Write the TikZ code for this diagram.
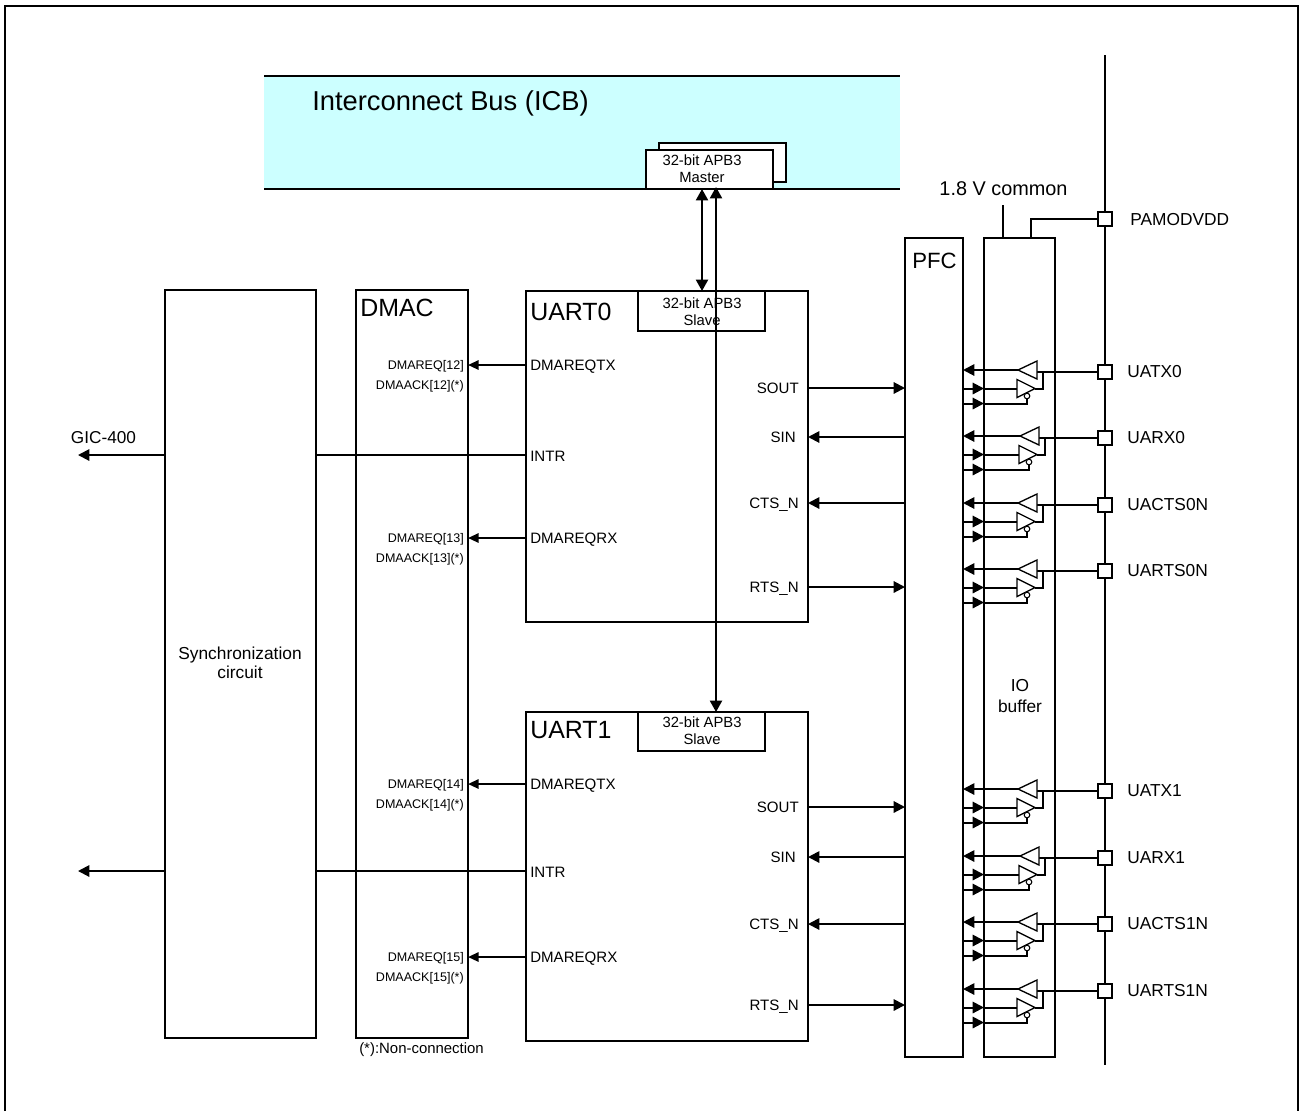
\documentclass[tikz,border=0pt]{standalone}
\usepackage{fontspec}
\setmainfont{Liberation Sans}
\usetikzlibrary{arrows.meta}
\definecolor{icbcyan}{HTML}{CCFFFF}
\tikzset{
  x=0.75pt,y=-0.75pt,
  wire/.style={draw=black,line width=1.5pt},
  tip/.style={-{Triangle[length=8.5pt,width=8.5pt]}},
  tipb/.style={{Triangle[length=8.5pt,width=9pt]}-{Triangle[length=8.5pt,width=9pt]}},
  smalltip/.style={-{Triangle[length=8pt,width=7pt]}},
  boxn/.style={draw=black,line width=1.5pt,fill=white,inner sep=0pt,outer sep=0pt,anchor=north west},
  lbl/.style={inner sep=0pt,font=\fontsize{11.3pt}{13pt}\selectfont,text height=8.1pt,text depth=0pt},
  padlbl/.style={inner sep=0pt,font=\fontsize{13pt}{15pt}\selectfont,text height=9.4pt,text depth=0pt,anchor=west},
  small/.style={inner sep=0pt,font=\fontsize{9.4pt}{11pt}\selectfont,text height=6.8pt,text depth=0pt,anchor=east},
  ctr/.style={inner sep=0pt,align=center},
  apb/.style={ctr,font=\fontsize{11.1pt}{12.75pt}\selectfont},
  big/.style={inner sep=0pt,font=\fontsize{18.7pt}{22pt}\selectfont,anchor=west,text height=13.5pt,text depth=0pt},
  pad/.style={draw=black,line width=1.5pt,fill=white,minimum size=10.5pt,inner sep=0pt,outer sep=0pt},
  buf/.style={draw=black,line width=1pt,fill=white},
}
\newcommand{\rectbox}[6]{\node[boxn,minimum width=#4*0.75pt-#2*0.75pt,minimum height=#5*0.75pt-#3*0.75pt] (#1) at (#2,#3) {#6};}
% #1 name, #2 pad y, #3 x offset, #4 label
\newcommand{\iogroup}[4]{%
  \node[pad] (pad#1) at (1105,#2) {};
  \node[padlbl] (lab#1) at (1127,#2-0.7) {#4};
  \coordinate (ut#1) at (1018+#3,#2-2);
  \coordinate (ub#1) at (1037+#3,#2-2);
  \coordinate (lb#1) at (1017+#3,#2+16.5);
  \coordinate (lt#1) at (1035+#3,#2+16.5);
  \coordinate (bb#1) at (1027+#3,#2+24);
  \coordinate (pfcA#1) at (963,#2-2);
  \coordinate (pfcB#1) at (963,#2+16.5);
  \coordinate (pfcC#1) at (963,#2+31.5);
  \coordinate (ioB#1) at (984,#2+16.5);
  \coordinate (ioC#1) at (984,#2+31.5);
  \coordinate (j#1) at (1043+#3,#2);
  \draw[wire] (pad#1.west) -- (ub#1 |- pad#1.west);
  \draw[wire] (j#1) -- (j#1 |- lt#1) -- (lt#1);
  \draw[wire,tip] (ut#1) -- (pfcA#1);
  \draw[wire] (lb#1) -- (ioB#1);
  \draw[wire,tip] (pfcB#1) -- (ioB#1);
  \draw[wire] (bb#1) |- (ioC#1);
  \draw[wire,tip] (pfcC#1) -- (ioC#1);
  \draw[buf] (ut#1) -- (ub#1 |- 0,#2-11) -- (ub#1 |- 0,#2+7) -- cycle;
  \draw[buf] (lt#1) -- (lb#1 |- 0,#2+7.5) -- (lb#1 |- 0,#2+25.5) -- cycle;
  \draw[buf,line width=.8pt] (bb#1) circle[radius=2.8];
}
\begin{document}
\begin{tikzpicture}
\useasboundingbox (0,0) rectangle (1301,1111);
% frame
\draw[wire] (5,1111) -- (5,6) -- (1298,6) -- (1298,1111);
% ICB
\fill[icbcyan] (264,76) rectangle (900,189);
\coordinate (icbTL) at (264,76); \coordinate (icbTR) at (900,76);
\coordinate (icbBL) at (264,189); \coordinate (icbBR) at (900,189);
\draw[wire] (icbTL) -- (icbTR);
\draw[wire] (icbBL) -- (icbBR);
\node[big,font=\fontsize{20.5pt}{24pt}\selectfont,text height=14.8pt] (icbt) at (312,101) {Interconnect Bus (ICB)};
\rectbox{mback}{659}{143}{786}{182}{}
\rectbox{mfront}{646}{150}{773}{189}{}
\node[apb] (mtxt) at (702,169) {32-bit APB3\\Master};
% main blocks
\rectbox{sync}{165}{290}{316}{1038}{}
\node[ctr,font=\fontsize{13pt}{14.3pt}\selectfont] (synct) at (240,663) {Synchronization\\circuit};
\rectbox{dmac}{356}{290}{468}{1038}{}
\node[big] (dmact) at (360,307) {DMAC};
\rectbox{u0}{526}{291}{808}{622}{}
\rectbox{u1}{526}{712}{808}{1041}{}
\node[big] (u0t) at (530,311) {UART0};
\node[big] (u1t) at (530,729) {UART1};
\rectbox{s0}{638}{291}{765}{331}{}
\rectbox{s1}{638}{712}{765}{751}{}
\node[apb] (s0t) at (702,312) {32-bit APB3\\Slave};
\node[apb] (s1t) at (702,731) {32-bit APB3\\Slave};
\rectbox{pfc}{905}{238}{963}{1057}{}
\node[big,font=\fontsize{16.6pt}{19pt}\selectfont,text height=12pt] (pfct) at (912,260) {PFC};
\rectbox{io}{984}{238}{1055}{1057}{}
\node[ctr,font=\fontsize{13pt}{16pt}\selectfont] (iot) at (1020,696) {IO\\buffer};
% bus connectors
\coordinate (mA) at (702,189); \coordinate (sA) at (702,291);
\coordinate (mB) at (716,187); \coordinate (sB) at (716,712);
\draw[wire,tipb] (mA) -- (sA);
\draw[wire,tipb] (mB) -- (sB);
% power rail
\coordinate (railT) at (1105,55); \coordinate (railB) at (1105,1065);
\draw[wire] (railT) -- (railB);
\node[inner sep=0pt,font=\fontsize{14.9pt}{17pt}\selectfont] (cmn) at (1003.5,189) {1.8 V common};
\coordinate (cmnB) at (1002.5,205);
\draw[wire] (cmnB) -- (cmnB |- io.north);
\node[pad] (padP) at (1105,219) {};
\node[padlbl] (labP) at (1130,219) {PAMODVDD};
\coordinate (ioP) at (1030.5,238);
\draw[wire] (ioP) |- (padP.west);
% IO groups
\iogroup{a}{372}{0}{UATX0}
\iogroup{b}{438}{2}{UARX0}
\iogroup{c}{505}{0}{UACTS0N}
\iogroup{d}{571}{0}{UARTS0N}
\iogroup{e}{791}{0}{UATX1}
\iogroup{f}{858}{2}{UARX1}
\iogroup{g}{924}{0}{UACTS1N}
\iogroup{h}{991}{0}{UARTS1N}
% UART0 ports
\node[small] at (464,365) (r12) {DMAREQ[12]};
\node[small] at (464,385) (k12) {DMAACK[12](*)};
\node[lbl,anchor=west] (u0tx) at (530,365) {DMAREQTX};
\draw[wire,smalltip] (u0.west |- u0tx.west) -- (dmac.east |- u0tx.west);
\node[lbl,anchor=west] (u0i) at (530,456) {INTR};
\draw[wire] (sync.east |- 0,455) -- (u0.west |- 0,455);
\node[small] at (464,538) (r13) {DMAREQ[13]};
\node[small] at (464,558) (k13) {DMAACK[13](*)};
\node[lbl,anchor=west] (u0rx) at (530,538) {DMAREQRX};
\draw[wire,smalltip] (u0.west |- u0rx.west) -- (dmac.east |- u0rx.west);
\node[lbl,anchor=east] (u0so) at (799,388) {SOUT};
\node[lbl,anchor=east] (u0si) at (796,437) {SIN};
\node[lbl,anchor=east] (u0ct) at (799,503) {CTS\_N};
\node[lbl,anchor=east] (u0rt) at (799,587) {RTS\_N};
\draw[wire,tip] (u0.east |- u0so.east) -- (pfc.west |- u0so.east);
\draw[wire,tip] (pfc.west |- u0si.east) -- (u0.east |- u0si.east);
\draw[wire,tip] (pfc.west |- u0ct.east) -- (u0.east |- u0ct.east);
\draw[wire,tip] (u0.east |- u0rt.east) -- (pfc.west |- u0rt.east);
% UART1 ports
\node[small] at (464,784) (r14) {DMAREQ[14]};
\node[small] at (464,804) (k14) {DMAACK[14](*)};
\node[lbl,anchor=west] (u1tx) at (530,784) {DMAREQTX};
\draw[wire,smalltip] (u1.west |- u1tx.west) -- (dmac.east |- u1tx.west);
\node[lbl,anchor=west] (u1i) at (530,872) {INTR};
\draw[wire] (sync.east |- 0,871) -- (u1.west |- 0,871);
\node[small] at (464,957) (r15) {DMAREQ[15]};
\node[small] at (464,977) (k15) {DMAACK[15](*)};
\node[lbl,anchor=west] (u1rx) at (530,957) {DMAREQRX};
\draw[wire,smalltip] (u1.west |- u1rx.west) -- (dmac.east |- u1rx.west);
\node[lbl,anchor=east] (u1so) at (799,807) {SOUT};
\node[lbl,anchor=east] (u1si) at (796,857) {SIN};
\node[lbl,anchor=east] (u1ct) at (799,924) {CTS\_N};
\node[lbl,anchor=east] (u1rt) at (799,1005) {RTS\_N};
\draw[wire,tip] (u1.east |- u1so.east) -- (pfc.west |- u1so.east);
\draw[wire,tip] (pfc.west |- u1si.east) -- (u1.east |- u1si.east);
\draw[wire,tip] (pfc.west |- u1ct.east) -- (u1.east |- u1ct.east);
\draw[wire,tip] (u1.east |- u1rt.east) -- (pfc.west |- u1rt.east);
% GIC
\coordinate (g0) at (78,455); \coordinate (g1) at (78,871);
\node[inner sep=0pt,font=\fontsize{12.9pt}{15pt}\selectfont] (gic) at (103.5,438) {GIC-400};
\draw[wire,tip] (sync.west |- g0) -- (g0);
\draw[wire,tip] (sync.west |- g1) -- (g1);
\node[inner sep=0pt,font=\fontsize{11.2pt}{13pt}\selectfont,anchor=west] (nc) at (359,1050) {(*):Non-connection};
\end{tikzpicture}
\end{document}
